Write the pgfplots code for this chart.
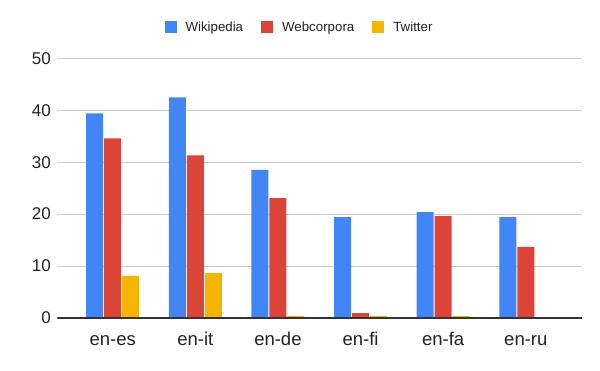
\documentclass[border=0pt]{standalone}
\usepackage{pgfplots}
\pgfplotsset{compat=1.18}
\usepackage{fontspec}
\setmainfont{Liberation Sans}
\definecolor{cblue}{HTML}{4285F4}
\definecolor{cred}{HTML}{DB4437}
\definecolor{cyellow}{HTML}{F4B400}
\definecolor{cgrid}{HTML}{CCCCCC}
\definecolor{ctext}{HTML}{222222}
\begin{document}
\begin{tikzpicture}
\begin{axis}[
  at={(0,0)}, anchor=south west,
  scale only axis,
  width=524.7bp, height=259.7bp,
  xmin=-0.67, xmax=5.68,
  ymin=0, ymax=50,
  ytick={0,10,20,30,40,50},
  xtick={0,1,2,3,4,5},
  xticklabels={en-es,en-it,en-de,en-fi,en-fa,en-ru},
  ybar=1bp, bar width=17bp,
  axis line style={draw=none},
  major tick length=0pt,
  ymajorgrids, grid style={cgrid, line width=0.8bp},
  /pgf/number format/assume math mode=true,
  yticklabel style={font=\fontsize{17bp}{20bp}\selectfont, text=ctext, xshift=-3bp},
  xticklabel style={font=\fontsize{18.5bp}{22bp}\selectfont, text=ctext, text height=14bp, text depth=0bp, yshift=-9.5bp},
  legend columns=3,
  legend style={draw=none, fill=none, at={(0.4616,1.1205)}, anchor=center,
    font=\fontsize{13.3bp}{15bp}\selectfont, text=ctext,
    /tikz/every even column/.append style={column sep=16bp},
    /tikz/every odd column/.append style={column sep=7bp}},
  legend image code/.code={\fill[#1] (0bp,-6bp) rectangle (12bp,6bp);},
]
\addplot[fill=cblue, draw=none] coordinates {(0,39.4) (1,42.5) (2,28.5) (3,19.4) (4,20.4) (5,19.4)};
\addplot[fill=cred, draw=none] coordinates {(0,34.6) (1,31.3) (2,23.1) (3,0.96) (4,19.6) (5,13.7)};
\addplot[fill=cyellow, draw=none] coordinates {(0,8.1) (1,8.65) (2,0.4) (3,0.4) (4,0.4) (5,0)};
\legend{Wikipedia, Webcorpora, Twitter}
\draw[color=black!80, line width=1.2bp] (axis cs:-0.67,0) -- (axis cs:5.68,0);
\end{axis}
\pgfresetboundingbox
\path[use as bounding box] (-57.3bp,-53bp) rectangle (542.7bp,318bp);
\end{tikzpicture}
\end{document}
